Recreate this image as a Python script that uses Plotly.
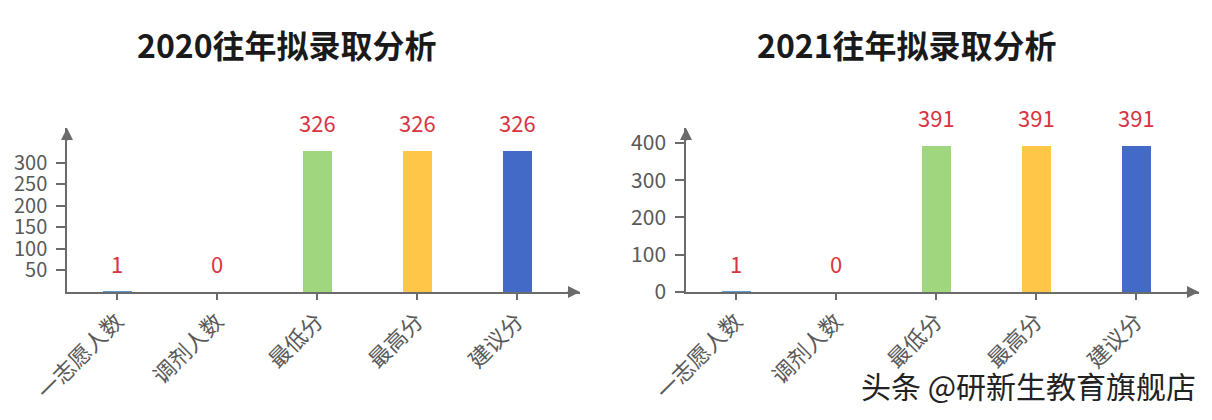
import plotly.graph_objects as go

categories = ["一志愿人数", "调剂人数", "最低分", "最高分", "建议分"]
values_2020 = [1, 0, 326, 326, 326]
values_2021 = [1, 0, 391, 391, 391]
bar_colors = ["#5B9BD5", "#ED7D31", "#A0D67D", "#FFC648", "#446AC8"]
titles = ["2020往年拟录取分析", "2021往年拟录取分析"]
ticks_2020 = [50, 100, 150, 200, 250, 300]
ticks_2021 = [0, 100, 200, 300, 400]
watermark = "头条 @研新生教育旗舰店"

# page body has an 8px margin, so the figure is drawn 8px smaller and offset
OFF = 8
W, H = 1212 - OFF, 420 - OFF
FONT = "Noto Sans CJK SC"
AXIS_COLOR = "#6b6b6b"
LABEL_RED = "#D8343F"


def fx(px):
    return (px - OFF) / W


T = 128 - OFF
B = H - (292 - OFF)
plot_h = H - T - B
y_axis_px = H - B


def fy(py):
    return (y_axis_px - (py - OFF)) / plot_h


fig = go.Figure()
fig.add_trace(go.Bar(x=categories, y=values_2020, marker_color=bar_colors,
                     marker_line_width=0, width=0.29, xaxis="x", yaxis="y",
                     showlegend=False, hoverinfo="skip"))
fig.add_trace(go.Bar(x=categories, y=values_2021, marker_color=bar_colors,
                     marker_line_width=0, width=0.29, xaxis="x2", yaxis="y2",
                     showlegend=False, hoverinfo="skip"))

xcommon = dict(type="category", range=[-0.5, 4.63], showline=True, linecolor=AXIS_COLOR,
               linewidth=1.5, ticks="outside", ticklen=6, tickcolor=AXIS_COLOR, tickwidth=1.5,
               tickangle=-45, tickfont=dict(family=FONT, size=22, color="#595959"),
               showgrid=False, zeroline=False, fixedrange=True, automargin=False)
ycommon = dict(showline=True, linecolor=AXIS_COLOR, linewidth=1.5, ticks="outside", ticklen=9,
               tickcolor=AXIS_COLOR, tickwidth=1.5, showgrid=False,
               zeroline=False, ticklabelstandoff=5, fixedrange=True, domain=[0, 1],
               automargin=False)

fig.update_layout(
    width=W, height=H, autosize=False,
    margin=dict(l=0, r=0, t=T, b=B, autoexpand=False),
    paper_bgcolor="white", plot_bgcolor="white",
    bargap=0,
    xaxis=dict(domain=[fx(67), fx(580)], anchor="y", **xcommon),
    yaxis=dict(range=[0, 380], tickvals=ticks_2020, anchor="x",
               tickfont=dict(family=FONT, size=20, color="#595959"), **ycommon),
    xaxis2=dict(domain=[fx(686), fx(1199)], anchor="y2", **xcommon),
    yaxis2=dict(range=[0, 440], tickvals=ticks_2021, anchor="x2",
                tickfont=dict(family=FONT, size=21, color="#595959"), **ycommon),
)

annotations = []
# arrows on axes
for xr, yr, ytop in (("x", "y", 380), ("x2", "y2", 440)):
    annotations.append(dict(xref=xr, yref=yr, x=4.63, y=0, ax=-14, ay=0, text="",
                            showarrow=True, arrowhead=2, arrowsize=1.6, arrowwidth=1.5,
                            arrowcolor=AXIS_COLOR))
    annotations.append(dict(xref=xr, yref=yr, x=-0.5, y=ytop, ax=0, ay=14, text="",
                            showarrow=True, arrowhead=2, arrowsize=1.6, arrowwidth=1.5,
                            arrowcolor=AXIS_COLOR))

# value labels
for xr, yr, vals in (("x", "y", values_2020), ("x2", "y2", values_2021)):
    for c, v in zip(categories, vals):
        annotations.append(dict(xref=xr, yref=yr, x=c, y=v, text=str(v), showarrow=False,
                                yanchor="bottom", yshift=11,
                                font=dict(family=FONT, size=22, color=LABEL_RED)))

# titles
for cx, t in ((287, titles[0]), (907, titles[1])):
    annotations.append(dict(xref="paper", yref="paper", x=fx(cx), y=fy(44),
                            text="<b>" + t + "</b>", showarrow=False, xanchor="center",
                            yanchor="middle", font=dict(family=FONT, size=32, color="#1a1a1a")))

# watermark
annotations.append(dict(xref="paper", yref="paper", x=fx(1198), y=fy(385),
                        text=watermark, showarrow=False, xanchor="right", yanchor="middle",
                        font=dict(family=FONT, size=30, color="#222222")))

fig.update_layout(annotations=annotations)

fig.write_html("out.html", config={"displayModeBar": False})
